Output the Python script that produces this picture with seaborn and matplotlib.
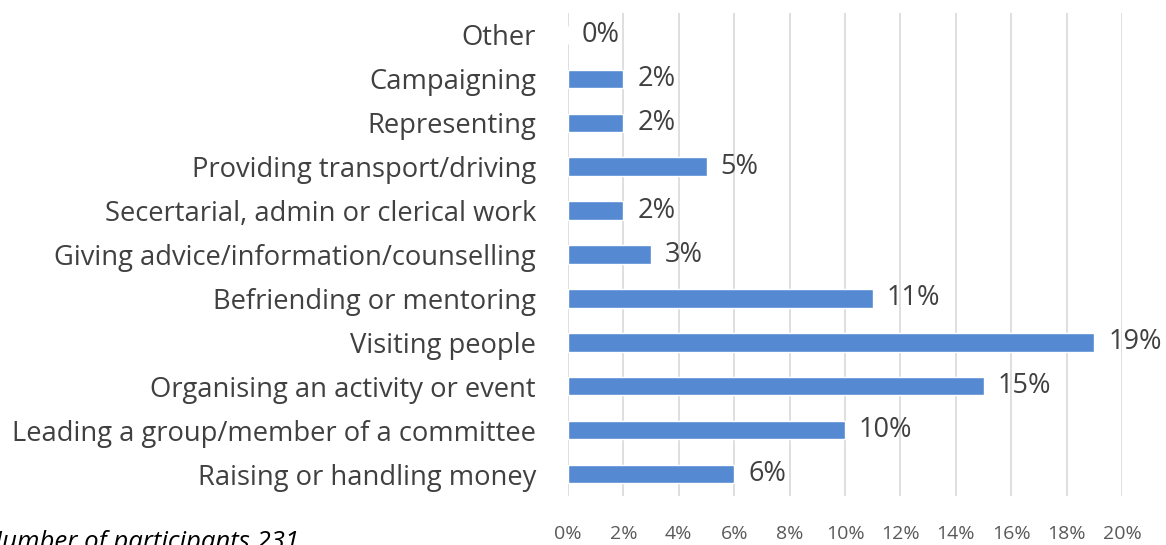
import pandas as pd
import matplotlib
matplotlib.use("Agg")
import matplotlib.pyplot as plt
import seaborn as sns

# Data (top to bottom)
activities = [
    "Other",
    "Campaigning",
    "Representing",
    "Providing transport/driving",
    "Secertarial, admin or clerical work",
    "Giving advice/information/counselling",
    "Befriending or mentoring",
    "Visiting people",
    "Organising an activity or event",
    "Leading a group/member of a committee",
    "Raising or handling money",
]
shares = [0, 2, 2, 5, 2, 3, 11, 19, 15, 10, 6]
x_ticks = [0, 2, 4, 6, 8, 10, 12, 14, 16, 18, 20]
note = "Number of participants 231"

df = pd.DataFrame({"activity": activities, "share": shares})

sns.set_style("white")
plt.rcParams["font.family"] = ["Open Sans", "DejaVu Sans"]

fig = plt.figure(figsize=(11.66, 5.45), dpi=100)
ax = fig.add_axes([568 / 1166, 1 - 496 / 545, 554 / 1166, 483 / 545])

sns.barplot(data=df, x="share", y="activity", orient="h", color="#5589D1",
            width=0.42, saturation=1, ax=ax)

ax.set_xlim(0, 20)
ax.set_ylim(10.5, -0.5)
ax.set_xticks(x_ticks)
ax.set_xticklabels([f"{t}%" for t in x_ticks], fontsize=14, color="#595959")
ax.tick_params(axis="x", length=0, pad=21)
ax.tick_params(axis="y", length=0, pad=23, labelsize=19.7, labelcolor="#404040")
ax.set_xlabel("")
ax.set_ylabel("")
ax.grid(axis="x", color="#D9D9D9", linewidth=1.2)
ax.set_axisbelow(True)
for s in ax.spines.values():
    s.set_visible(False)

for i, v in enumerate(shares):
    ax.annotate(f"{v}%", (v, i), xytext=(10, 0), textcoords="offset points",
                va="center", ha="left", fontsize=19.5, color="#404040")

fig.text(-0.014, -0.018, note, fontsize=18.5, style="italic", color="#000000",
         ha="left", va="bottom")

fig.savefig("out.png", dpi=100)
